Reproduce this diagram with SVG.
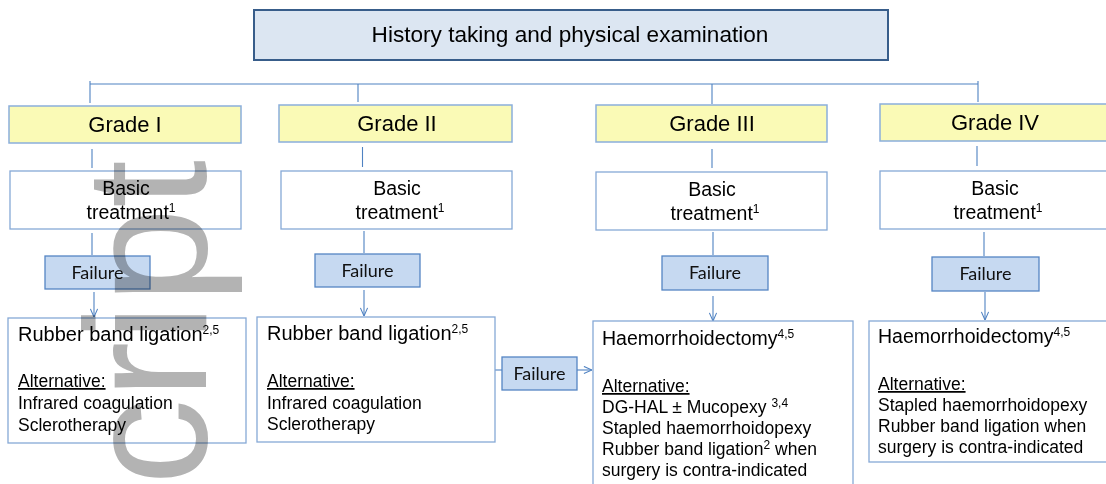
<svg xmlns="http://www.w3.org/2000/svg" width="1106" height="484" viewBox="0 0 1106 484">
<style>
  .t{font-family:"Liberation Sans",Arial,sans-serif;fill:#000}
  .c{text-anchor:middle}
  .grade{fill:#fafab6;stroke:#8aaedb;stroke-width:1.5}
  .plain{fill:#fff;stroke:#86a9d6;stroke-width:1.3}
  .fail{fill:#c6d9f1;stroke:#5585c4;stroke-width:1.3}
  .ft{font-family:Lato,"Open Sans",sans-serif;font-size:18px;text-anchor:middle;fill:#111}
  .conn{stroke:#4f82c2;stroke-width:1.1;fill:none}
  .bt{font-size:19.5px}
  .b{font-size:17.5px}
  .u{text-decoration:underline}
  .wm{font-family:"Liberation Sans",Arial,sans-serif;font-size:172px;fill:#b3b3b3;mix-blend-mode:multiply}
</style>
<defs>
  <marker id="arr" viewBox="0 0 10 10" refX="10" refY="5" markerWidth="9" markerHeight="9" markerUnits="userSpaceOnUse" orient="auto">
    <path d="M1,1 L10,5 L1,9" fill="none" stroke="#4f82c2" stroke-width="1.2"/>
  </marker>
</defs>

<g id="top">
  <rect x="254" y="10" width="634" height="50" fill="#dce6f2" stroke="#385d8a" stroke-width="2"/>
  <text class="t c" x="570" y="42" font-size="22.6">History taking and physical examination</text>
</g>

<g id="connectors">
  <path class="conn" d="M90,84 H978 M90,81 V103 M358,84 V102 M712,84 V104 M978,81 V102"/>
  <path class="conn" d="M92,149 V168 M362.5,147 V167 M712,149 V168 M977,146 V166"/>
  <path class="conn" d="M92,233 V255 M364,231 V253 M713,232 V255 M984,232 V256"/>
  <path class="conn" marker-end="url(#arr)" d="M94,292 V317"/>
  <path class="conn" marker-end="url(#arr)" d="M364,290 V316"/>
  <path class="conn" marker-end="url(#arr)" d="M713,296 V321"/>
  <path class="conn" marker-end="url(#arr)" d="M985,292 V320"/>
  <path class="conn" d="M495,370 H502"/>
  <path class="conn" marker-end="url(#arr)" d="M577,370 H592"/>
</g>

<g id="grade1">
  <rect class="grade" x="9" y="106" width="232" height="37"/>
  <text class="t c" x="125" y="132" font-size="22">Grade I</text>
</g>
<g id="grade2">
  <rect class="grade" x="279" y="105" width="233" height="37"/>
  <text class="t c" x="397" y="131" font-size="22">Grade II</text>
</g>
<g id="grade3">
  <rect class="grade" x="596" y="105" width="231" height="37"/>
  <text class="t c" x="712" y="131" font-size="22">Grade III</text>
</g>
<g id="grade4">
  <rect class="grade" x="880" y="104" width="232" height="37"/>
  <text class="t c" x="995" y="130" font-size="22">Grade IV</text>
</g>

<g id="basic1">
  <rect class="plain" x="10" y="171" width="231" height="58"/>
  <text class="t c bt" x="126" y="195">Basic</text>
  <text class="t c bt" x="131" y="219">treatment<tspan font-size="12" dy="-7">1</tspan></text>
</g>
<g id="basic2">
  <rect class="plain" x="281" y="171" width="231" height="58"/>
  <text class="t c bt" x="397" y="195">Basic</text>
  <text class="t c bt" x="400" y="219">treatment<tspan font-size="12" dy="-7">1</tspan></text>
</g>
<g id="basic3">
  <rect class="plain" x="596" y="172" width="231" height="58"/>
  <text class="t c bt" x="712" y="196">Basic</text>
  <text class="t c bt" x="715" y="220">treatment<tspan font-size="12" dy="-7">1</tspan></text>
</g>
<g id="basic4">
  <rect class="plain" x="880" y="171" width="232" height="58"/>
  <text class="t c bt" x="995" y="195">Basic</text>
  <text class="t c bt" x="998" y="219">treatment<tspan font-size="12" dy="-7">1</tspan></text>
</g>

<g id="failure1">
  <rect class="fail" x="45" y="256" width="105" height="33"/>
  <text class="ft" x="97.5" y="279">Failure</text>
</g>
<g id="failure2">
  <rect class="fail" x="315" y="254" width="105" height="33"/>
  <text class="ft" x="367.5" y="277">Failure</text>
</g>
<g id="failure3">
  <rect class="fail" x="662" y="256" width="106" height="34"/>
  <text class="ft" x="715" y="279">Failure</text>
</g>
<g id="failure4">
  <rect class="fail" x="932" y="257" width="107" height="34"/>
  <text class="ft" x="985.5" y="280">Failure</text>
</g>
<g id="failure-side">
  <rect class="fail" x="502" y="357" width="75" height="33"/>
  <text class="ft" x="539.5" y="380">Failure</text>
</g>

<g id="rbl1">
  <rect class="plain" x="8" y="318" width="238" height="125"/>
  <text class="t" x="18" y="341" font-size="20">Rubber band ligation<tspan font-size="12" dy="-7">2,5</tspan></text>
  <text class="t b u" x="18" y="387">Alternative:</text>
  <text class="t b" x="18" y="409">Infrared coagulation</text>
  <text class="t b" x="18" y="431">Sclerotherapy</text>
</g>
<g id="rbl2">
  <rect class="plain" x="257" y="317" width="238" height="125"/>
  <text class="t" x="267" y="340" font-size="20">Rubber band ligation<tspan font-size="12" dy="-7">2,5</tspan></text>
  <text class="t b u" x="267" y="387">Alternative:</text>
  <text class="t b" x="267" y="409">Infrared coagulation</text>
  <text class="t b" x="267" y="430">Sclerotherapy</text>
</g>
<g id="haem3">
  <rect class="plain" x="593" y="321" width="260" height="175"/>
  <text class="t" x="602" y="345" font-size="19.5">Haemorrhoidectomy<tspan font-size="12" dy="-7">4,5</tspan></text>
  <text class="t b u" x="602" y="392">Alternative:</text>
  <text class="t b" x="602" y="413">DG-HAL ± Mucopexy <tspan font-size="12" dy="-6">3,4</tspan></text>
  <text class="t b" x="602" y="434">Stapled haemorrhoidopexy</text>
  <text class="t b" x="602" y="455">Rubber band ligation<tspan font-size="12" dy="-6">2</tspan><tspan dy="6"> when</tspan></text>
  <text class="t b" x="602" y="476">surgery is contra-indicated</text>
</g>
<g id="haem4">
  <rect class="plain" x="869" y="321" width="243" height="141"/>
  <text class="t" x="878" y="343" font-size="19.5">Haemorrhoidectomy<tspan font-size="12" dy="-7">4,5</tspan></text>
  <text class="t b u" x="878" y="390">Alternative:</text>
  <text class="t b" x="878" y="411">Stapled haemorrhoidopexy</text>
  <text class="t b" x="878" y="432">Rubber band ligation when</text>
  <text class="t b" x="878" y="453">surgery is contra-indicated</text>
</g>

<text class="wm" transform="translate(206,485) rotate(-90)">cript</text>
</svg>
